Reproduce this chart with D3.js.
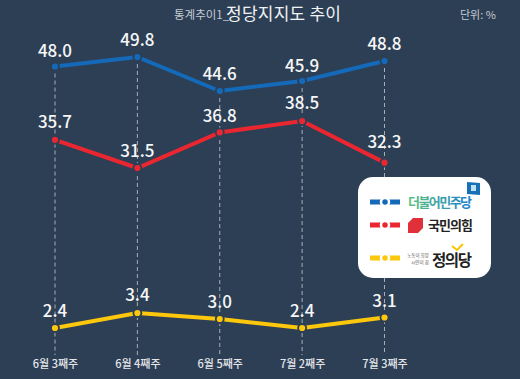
<!DOCTYPE html>
<html>
<head>
<meta charset="utf-8">
<script src="https://cdnjs.cloudflare.com/ajax/libs/d3/7.8.5/d3.min.js"></script>
<style>
html, body { margin: 0; padding: 0; background: #2d3f55; }
svg { display: block; }
text { font-family: "Noto Sans CJK KR", "Noto Sans", sans-serif; }
</style>
</head>
<body>
<div id="chart"></div>
<script>
const weeks = ['6월 3째주', '6월 4째주', '6월 5째주', '7월 2째주', '7월 3째주'];
const minjoo = [48.0, 49.8, 44.6, 45.9, 48.8];
const ppp = [35.7, 31.5, 36.8, 38.5, 32.3];
const justice = [2.4, 3.4, 3.0, 2.4, 3.1];

const width = 520;
const height = 379;
const bg = '#2d3f55';

const svg = d3.select('#chart').append('svg')
    .attr('width', width)
    .attr('height', height);

const x = d3.scalePoint().domain(weeks).range([55, 384.5]);

// the original chart squeezes the empty range between the parties, so the y scale is piecewise
const y = d3.scaleLinear()
    .domain([2.4, 3.4, 31.5, 38.5, 44.6, 45.9, 48.8, 49.8])
    .range([328, 313, 168, 121, 91, 81, 61, 57]);

// title
svg.append('text').attr('x', 174).attr('y', 19).attr('font-size', 11.5).attr('fill', '#c4cad2').text('통계추이1_');
svg.append('text').attr('x', 226).attr('y', 20).attr('font-size', 17).attr('textLength', 115).attr('fill', '#f2f3f5').text('정당지지도 추이');
svg.append('text').attr('x', 460).attr('y', 19).attr('font-size', 11).attr('fill', '#c4cad2').text('단위: %');

// dashed guides
svg.append('g').selectAll('line')
    .data(weeks)
    .enter().append('line')
    .attr('x1', d => x(d))
    .attr('x2', d => x(d))
    .attr('y1', (d, i) => y(minjoo[i]))
    .attr('y2', 355)
    .attr('stroke', '#a9aeb5')
    .attr('stroke-width', 1)
    .attr('stroke-dasharray', '4 3');

// x axis, labels only
const axis = svg.append('g')
    .attr('transform', 'translate(0,355)')
    .call(d3.axisBottom(x).tickSize(0).tickPadding(5));
axis.select('.domain').remove();
axis.selectAll('text')
    .attr('font-size', 11)
    .attr('font-weight', 500)
    .attr('fill', '#e4e6ea')
    .style('font-family', '"Noto Sans CJK KR", sans-serif');

const series = [
    { values: minjoo, color: '#1469b8', labelDy: [-10, -11, -11, -9, -11] },
    { values: ppp, color: '#ea2730', labelDy: [-12, -11, -10, -12, -15] },
    { values: justice, color: '#fdc70c', labelDy: [-11, -12, -11, -11, -11] }
];

const line = d3.line()
    .x((d, i) => x(weeks[i]))
    .y(d => y(d));

series.forEach(s => {
    const g = svg.append('g');
    g.append('path')
        .attr('d', line(s.values))
        .attr('fill', 'none')
        .attr('stroke', s.color)
        .attr('stroke-width', 4);
    g.selectAll('circle')
        .data(s.values)
        .enter().append('circle')
        .attr('cx', (d, i) => x(weeks[i]))
        .attr('cy', d => y(d))
        .attr('r', 4)
        .attr('fill', s.color)
        .attr('stroke', bg)
        .attr('stroke-width', 1.8);
    g.selectAll('text')
        .data(s.values)
        .enter().append('text')
        .attr('x', (d, i) => x(weeks[i]))
        .attr('y', (d, i) => y(d) + s.labelDy[i])
        .attr('text-anchor', 'middle')
        .attr('font-size', 17)
        .attr('font-weight', 500)
        .attr('fill', '#f6f7f8')
        .text(d => d.toFixed(1));
});

// legend
const legend = svg.append('g');
legend.append('rect')
    .attr('x', 358).attr('y', 177)
    .attr('width', 133).attr('height', 101)
    .attr('rx', 15)
    .attr('fill', '#fff');

const defs = svg.append('defs');
const grad = defs.append('linearGradient').attr('id', 'minjooText');
grad.append('stop').attr('offset', '0%').attr('stop-color', '#5cc47e');
grad.append('stop').attr('offset', '100%').attr('stop-color', '#1a7fd0');

const legendY = [202, 225, 258];
series.forEach((s, i) => {
    const row = legend.append('g').attr('transform', `translate(0,${legendY[i]})`);
    row.append('line')
        .attr('x1', 370).attr('x2', 400)
        .attr('stroke', s.color)
        .attr('stroke-width', 5);
    row.append('circle')
        .attr('cx', 385).attr('r', 4)
        .attr('fill', s.color)
        .attr('stroke', '#fff')
        .attr('stroke-width', 2.5);
});

legend.append('text').attr('x', 408).attr('y', 207).attr('font-size', 13).attr('font-weight', 700)
    .attr('textLength', 64).attr('fill', 'url(#minjooText)').text('더불어민주당');
legend.append('path').attr('d', 'M467 182 L480 183 L480 195 L467 194 Z').attr('fill', '#1570b8');
legend.append('rect').attr('x', 471).attr('y', 185).attr('width', 5).attr('height', 6).attr('fill', '#bfe0ee');

legend.append('path').attr('d', 'M413 218 L423 218 L423 228 L418 233 L408 233 L408 223 Z').attr('fill', '#e0303a');
legend.append('text').attr('x', 428).attr('y', 230).attr('font-size', 13).attr('font-weight', 700)
    .attr('textLength', 45).attr('fill', '#222').text('국민의힘');

legend.append('text').attr('x', 418).attr('y', 257).attr('text-anchor', 'middle').attr('font-size', 4.5).attr('fill', '#555').text('노동이 희망');
legend.append('text').attr('x', 420).attr('y', 264).attr('text-anchor', 'middle').attr('font-size', 4.5).attr('fill', '#555').text('시민이 꿈');
legend.append('text').attr('x', 432).attr('y', 266).attr('font-size', 15.5).attr('font-weight', 700)
    .attr('textLength', 40).attr('fill', '#222').text('정의당');
legend.append('path').attr('d', 'M452 246 L457 250 L463 244').attr('fill', 'none').attr('stroke', '#f7c600').attr('stroke-width', 2);
</script>
</body>
</html>
